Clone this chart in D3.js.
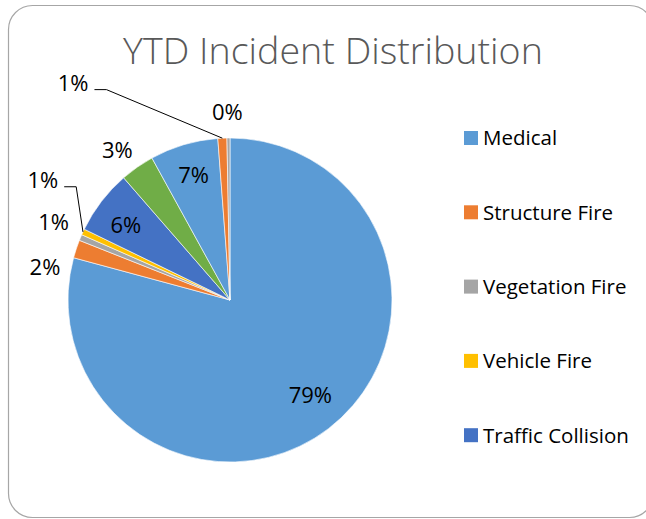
<!DOCTYPE html>
<html>
<head>
<meta charset="utf-8">
<script src="https://cdn.jsdelivr.net/npm/d3@7"></script>
<style>
  body { margin: 0; background: #fff; }
  svg { display: block; font-family: "Open Sans", sans-serif; }
</style>
</head>
<body>
<script>
// incident counts, clockwise from 12 o'clock
let categories = ['Medical', 'Structure Fire', 'Vegetation Fire', 'Vehicle Fire',
  'Traffic Collision', 'Hazardous Condition', 'Service Call', 'False Alarm', 'Other'];
let counts = [792, 18, 6, 6, 64, 34, 68, 9, 3];
let colors = ['#5b9bd5', '#ed7d31', '#a5a5a5', '#ffc000', '#4472c4',
  '#70ad47', '#5b9bd5', '#ed7d31', '#a5a5a5'];
let legendShown = 5; // legend box only has room for the first five

// label placement: [angle in degrees, distance as fraction of radius], leader line or not
let labelPos = [[139.9, 0.77], [280.1, 1.16], [293.8, 1.19], [302.5, 1.37],
  [305.5, 0.79], [323.0, 1.155], [343.7, 0.80], [324.05, 1.65], [359.2, 1.157]];
let leader = [false, false, false, true, false, false, false, true, false];

let w = 646, h = 519;
let cx = 230, cy = 300, r = 162;

let svg = d3.select('body')
  .append('svg')
  .attr('width', w)
  .attr('height', h);

// chart border, right side runs off the picture
svg.append('rect')
  .attr('x', 8.5)
  .attr('y', 5.5)
  .attr('width', 645)
  .attr('height', 512)
  .attr('rx', 24)
  .attr('fill', 'none')
  .attr('stroke', '#a6a6a6')
  .attr('stroke-width', 1.2);

// title, fitted to the width it has in the reference
let title = svg.append('text')
  .attr('x', 333)
  .attr('y', 64)
  .attr('text-anchor', 'middle')
  .style('font-weight', 300)
  .style('font-size', '36px')
  .style('fill', '#595959')
  .text('YTD Incident Distribution');
let tw = title.node().getComputedTextLength();
title.style('font-size', (36 * 420 / tw) + 'px');

let total = d3.sum(counts);
let pie = d3.pie().sort(null).value(function(d) { return d; });
let arcs = pie(counts);
let arc = d3.arc().innerRadius(0).outerRadius(r);

let g = svg.append('g')
  .attr('transform', `translate(${cx},${cy})`);

g.selectAll('path')
  .data(arcs)
  .enter()
  .append('path')
  .attr('d', arc)
  .attr('fill', function(d, i) { return colors[i]; })
  .attr('stroke', '#fff')
  .attr('stroke-width', 0.6);

function polar(angleDeg, dist) {
  let a = angleDeg * Math.PI / 180;
  return [dist * Math.sin(a), -dist * Math.cos(a)];
}

let fmt = function(v) { return Math.round(v / total * 100) + '%'; };

arcs.forEach(function(d, i) {
  let p = polar(labelPos[i][0], labelPos[i][1] * r);
  let t = g.append('text')
    .attr('x', p[0])
    .attr('y', p[1])
    .attr('text-anchor', 'middle')
    .attr('dy', '0.35em')
    .style('font-size', '22px')
    .style('fill', '#000')
    .text(fmt(d.value));

  if (leader[i]) {
    let half = t.node().getComputedTextLength() / 2;
    let mid = (d.startAngle + d.endAngle) / 2 * 180 / Math.PI;
    let end = polar(mid, r);
    let pts = [[p[0] + half + 6, p[1] + 6], [p[0] + half + 18, p[1] + 6], end];
    g.append('path')
      .attr('d', d3.line()(pts))
      .attr('fill', 'none')
      .attr('stroke', '#000')
      .attr('stroke-width', 1);
  }
});

// legend
let legend = svg.append('g')
  .attr('transform', 'translate(464,138)');

let items = legend.selectAll('g')
  .data(categories.slice(0, legendShown))
  .enter()
  .append('g')
  .attr('transform', function(d, i) { return `translate(0,${i * 74.3})`; });

items.append('rect')
  .attr('x', 0)
  .attr('y', -7)
  .attr('width', 14)
  .attr('height', 14)
  .attr('fill', function(d, i) { return colors[i]; });

items.append('text')
  .attr('x', 19)
  .attr('y', 0)
  .attr('dy', '0.36em')
  .style('font-size', '20.5px')
  .style('fill', '#000')
  .text(function(d) { return d; });
</script>
</body>
</html>
